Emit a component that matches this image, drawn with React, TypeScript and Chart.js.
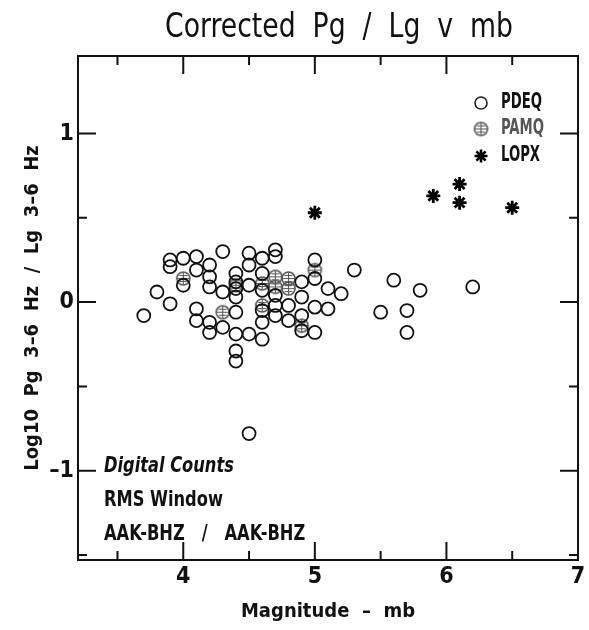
import React, { useEffect, useRef } from "react";
import { Chart, registerables } from "chart.js";

Chart.register(...registerables);

// ---- data ----
const pdeqMb = [
  3.7, 3.8, 3.9, 3.9, 3.9, 4.0, 4.0, 4.1, 4.1, 4.2,
  4.2, 4.2, 4.3, 4.3, 4.1, 4.1, 4.2, 4.2, 4.3, 4.4,
  4.4, 4.4, 4.4, 4.4, 4.4, 4.4, 4.4, 4.5, 4.5, 4.6,
  4.7, 4.7, 4.5, 4.6, 4.6, 4.9, 5.0, 5.0, 5.3, 5.1,
  5.2, 4.7, 4.6, 4.7, 4.7, 4.8, 4.9, 5.0, 5.1, 4.6,
  4.8, 4.9, 4.9, 5.0, 4.5, 4.6, 4.5, 5.6, 5.8, 6.2,
  5.5, 5.7, 5.7,
];
const pdeqRatio = [
  -0.08, 0.06, -0.01, 0.25, 0.21, 0.26, 0.1, 0.27, 0.19, 0.22,
  0.15, 0.09, 0.3, 0.06, -0.04, -0.11, -0.12, -0.18, -0.15, 0.17,
  0.12, 0.08, 0.03, -0.06, -0.19, -0.29, -0.35, 0.29, 0.22, 0.26,
  0.31, 0.27, 0.1, 0.17, 0.07, 0.12, 0.25, 0.14, 0.19, 0.08,
  0.05, 0.04, -0.05, -0.02, -0.08, -0.02, 0.03, -0.03, -0.04, -0.12,
  -0.11, -0.08, -0.17, -0.18, -0.19, -0.22, -0.78, 0.13, 0.07, 0.09,
  -0.06, -0.05, -0.18,
];
const pamqMb = [4.0, 4.3, 4.4, 4.6, 4.7, 4.7, 4.8, 4.8, 5.0, 4.6, 4.9];
const pamqRatio = [0.14, -0.06, 0.1, 0.11, 0.15, 0.09, 0.14, 0.08, 0.19, -0.02, -0.14];
const lopxMb = [5.0, 5.9, 6.1, 6.1, 6.5];
const lopxRatio = [0.53, 0.63, 0.7, 0.59, 0.56];

const xTickLabels = [4, 5, 6, 7];
const yTickLabels = [-1, 0, 1];
const xTickMarks = [3.5, 4, 4.5, 5, 5.5, 6, 6.5];
const yTickMarks = [-1.5, -1, -0.5, 0, 0.5, 1];

const seriesNames = ["PDEQ", "PAMQ", "LOPX"];
const titleText = "Corrected  Pg  /  Lg  v  mb";
const xTitle = "Magnitude  –  mb";
const yTitle = "Log10  Pg  3–6  Hz  /  Lg  3–6  Hz";
const noteLines = ["Digital Counts", "RMS Window", "AAK-BHZ   /   AAK-BHZ"];

const FONT = "'Liberation Sans Narrow', 'DejaVu Sans Condensed', 'Roboto', sans-serif";

function makePamqSymbol(): HTMLCanvasElement {
  const c = document.createElement("canvas");
  c.width = 17;
  c.height = 17;
  const g = c.getContext("2d")!;
  g.strokeStyle = "#555";
  g.lineWidth = 1.6;
  g.beginPath();
  g.arc(8.5, 8.5, 6.5, 0, Math.PI * 2);
  g.stroke();
  g.lineWidth = 1.1;
  g.beginPath();
  g.moveTo(8.5, 2.5);
  g.lineTo(8.5, 14.5);
  g.moveTo(2.5, 8.5);
  g.lineTo(14.5, 8.5);
  g.moveTo(4.5, 5.5);
  g.lineTo(12.5, 5.5);
  g.moveTo(4.5, 11.5);
  g.lineTo(12.5, 11.5);
  g.stroke();
  return c;
}

// draw text horizontally condensed by factor sx
function narrowText(ctx: any, text: string, x: number, y: number, sx: number) {
  ctx.save();
  ctx.translate(x, y);
  ctx.scale(sx, 1);
  ctx.fillText(text, 0, 0);
  ctx.restore();
}

const framePlugin = {
  id: "frame",
  afterDatasetsDraw(chart: any) {
    const { ctx, chartArea } = chart;
    const xs = chart.scales.x;
    const ys = chart.scales.y;
    const { left, right, top, bottom } = chartArea;
    ctx.save();
    ctx.strokeStyle = "#111";
    ctx.lineWidth = 2;
    ctx.strokeRect(left, top, right - left, bottom - top);
    ctx.beginPath();
    for (const v of xTickMarks) {
      const len = Number.isInteger(v) ? 18 : 9;
      const px = xs.getPixelForValue(v);
      ctx.moveTo(px, bottom);
      ctx.lineTo(px, bottom - len);
      ctx.moveTo(px, top);
      ctx.lineTo(px, top + len);
    }
    for (const v of yTickMarks) {
      const len = Number.isInteger(v) ? 18 : 9;
      const py = ys.getPixelForValue(v);
      ctx.moveTo(left, py);
      ctx.lineTo(left + len, py);
      ctx.moveTo(right, py);
      ctx.lineTo(right - len, py);
    }
    ctx.stroke();
    ctx.restore();
  },
  afterDraw(chart: any) {
    const { ctx } = chart;
    ctx.save();
    ctx.fillStyle = "#111";
    ctx.textBaseline = "middle";
    ctx.textAlign = "center";
    ctx.font = `34px ${FONT}`;
    const tw = ctx.measureText(titleText).width;
    narrowText(ctx, titleText, 339, 28, Math.min(1, 348 / tw));

    ctx.textAlign = "left";
    ctx.font = `italic bold 21px ${FONT}`;
    narrowText(ctx, noteLines[0], 104, 467, 0.86);
    ctx.font = `bold 21px ${FONT}`;
    narrowText(ctx, noteLines[1], 104, 501, 0.86);
    narrowText(ctx, noteLines[2], 104, 535, 0.86);

    // legend
    const ly = [103, 129, 156];
    const mx = 481;
    ctx.strokeStyle = "#222";
    ctx.lineWidth = 1.6;
    ctx.beginPath();
    ctx.arc(mx, ly[0], 6, 0, Math.PI * 2);
    ctx.stroke();
    const sym = makePamqSymbol();
    ctx.drawImage(sym, mx - 8.5, ly[1] - 8.5);
    ctx.lineWidth = 2.6;
    ctx.strokeStyle = "#000";
    ctx.beginPath();
    const r = 6.5;
    for (let i = 0; i < 4; i++) {
      const a = (i * Math.PI) / 4;
      ctx.moveTo(mx - r * Math.cos(a), ly[2] - r * Math.sin(a));
      ctx.lineTo(mx + r * Math.cos(a), ly[2] + r * Math.sin(a));
    }
    ctx.stroke();
    ctx.font = `bold 21px ${FONT}`;
    ctx.fillStyle = "#111";
    narrowText(ctx, seriesNames[0], 501, ly[0], 0.7);
    ctx.fillStyle = "#555";
    narrowText(ctx, seriesNames[1], 501, ly[1], 0.7);
    ctx.fillStyle = "#111";
    narrowText(ctx, seriesNames[2], 501, ly[2], 0.7);
    ctx.restore();
  },
};

export default function App() {
  const ref = useRef<HTMLCanvasElement | null>(null);

  useEffect(() => {
    if (!ref.current) return;
    const pamqSym = makePamqSymbol();
    const chart = new Chart(ref.current, {
      type: "scatter",
      data: {
        datasets: [
          {
            label: seriesNames[0],
            data: pdeqMb.map((x, i) => ({ x, y: pdeqRatio[i] })),
            pointStyle: "circle",
            pointRadius: 6.5,
            pointBorderWidth: 1.8,
            borderColor: "#111",
            backgroundColor: "rgba(0,0,0,0)",
          },
          {
            label: seriesNames[1],
            data: pamqMb.map((x, i) => ({ x, y: pamqRatio[i] })),
            pointStyle: pamqSym as any,
            pointRadius: 7,
            borderColor: "#555",
            backgroundColor: "rgba(0,0,0,0)",
          },
          {
            label: seriesNames[2],
            data: lopxMb.map((x, i) => ({ x, y: lopxRatio[i] })),
            pointStyle: "star",
            pointRadius: 7,
            pointBorderWidth: 2.8,
            borderColor: "#000",
            backgroundColor: "#000",
          },
        ],
      },
      options: {
        responsive: false,
        animation: false,
        layout: { padding: { top: 56, right: 11, left: 0, bottom: 0 } },
        plugins: {
          legend: { display: false },
          title: { display: false },
          tooltip: { enabled: false },
        },
        scales: {
          x: {
            type: "linear",
            min: 3.2,
            max: 7,
            afterBuildTicks: (s: any) => {
              s.ticks = xTickLabels.map((v) => ({ value: v }));
            },
            afterFit: (s: any) => {
              s.height = 70;
            },
            grid: { display: false, drawTicks: false },
            border: { display: false },
            ticks: {
              padding: 3,
              color: "#111",
              font: { family: FONT, size: 23, weight: "bold" },
              callback: (v: any) => String(v),
            },
            title: {
              display: true,
              text: xTitle,
              color: "#111",
              font: { family: FONT, size: 20, weight: "bold" },
              padding: { top: 0, bottom: 6 },
            },
          },
          y: {
            type: "linear",
            min: -1.53,
            max: 1.46,
            afterBuildTicks: (s: any) => {
              s.ticks = yTickLabels.map((v) => ({ value: v }));
            },
            afterFit: (s: any) => {
              s.width = 78;
            },
            grid: { display: false, drawTicks: false },
            border: { display: false },
            ticks: {
              padding: 4,
              color: "#111",
              font: { family: FONT, size: 23, weight: "bold" },
              callback: (v: any) => (v < 0 ? "–" + Math.abs(v) : String(v)),
            },
            title: {
              display: true,
              text: yTitle,
              color: "#111",
              font: { family: FONT, size: 20, weight: "bold" },
              padding: { top: 21, bottom: 0 },
            },
          },
        },
      },
      plugins: [framePlugin],
    });
    return () => chart.destroy();
  }, []);

  return (
    <div style={{ position: "absolute", left: 0, top: 0, width: 589, height: 630, background: "#fff" }}>
      <canvas ref={ref} width={589} height={630} style={{ display: "block" }} />
    </div>
  );
}
